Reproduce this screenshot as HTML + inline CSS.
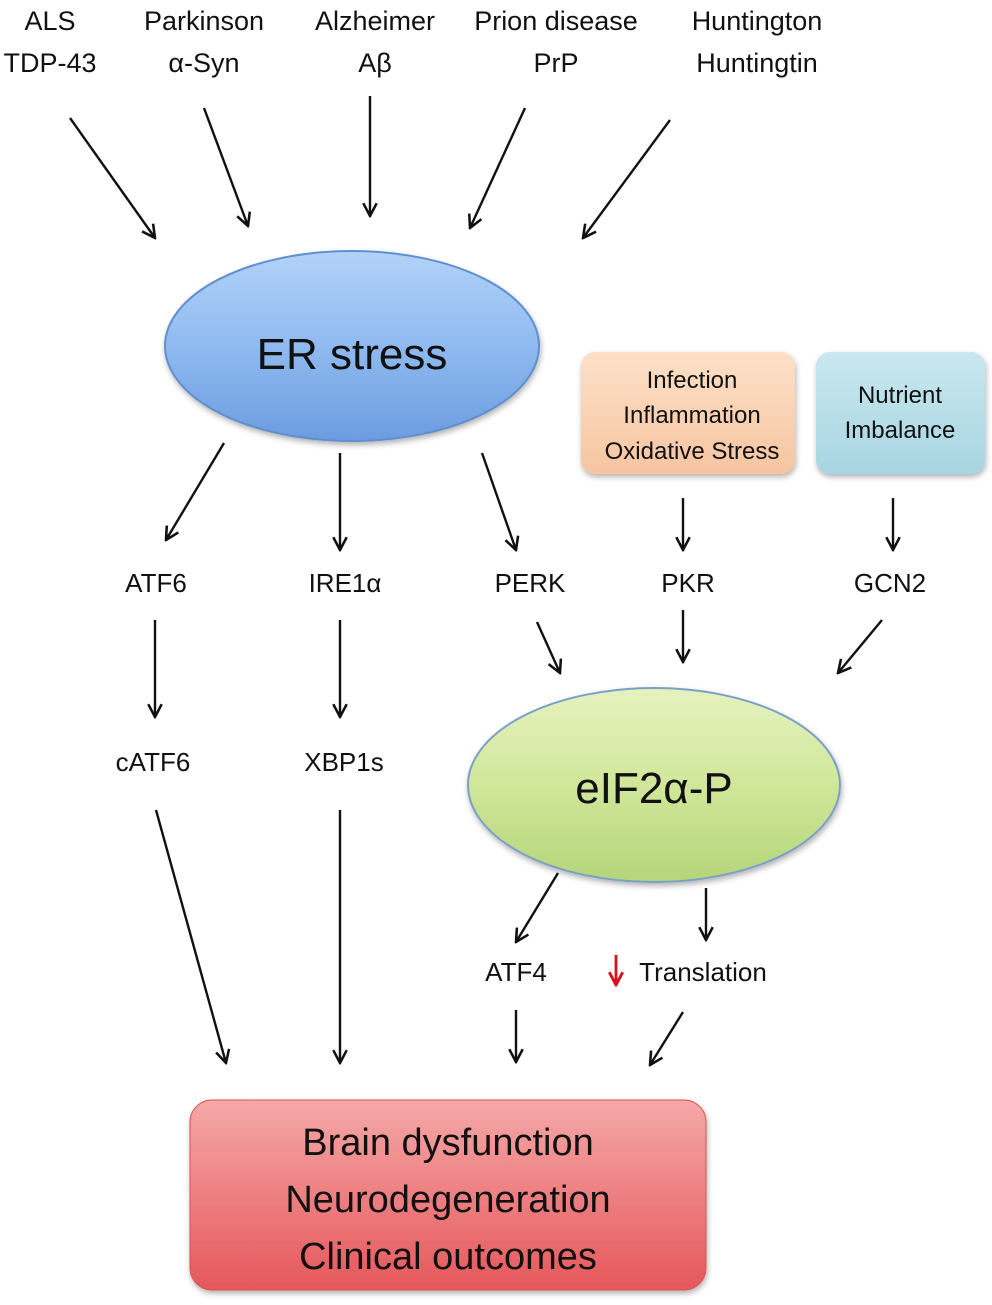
<!DOCTYPE html>
<html><head><style>
html,body{margin:0;padding:0;background:#fff;}
svg text{font-family:"Liberation Sans","DejaVu Sans",sans-serif;fill:#111;}
</style></head><body>
<svg width="992" height="1300" viewBox="0 0 992 1300" xmlns="http://www.w3.org/2000/svg">
<defs>
<marker id="ah" markerWidth="16" markerHeight="16" refX="9" refY="5" orient="auto" markerUnits="userSpaceOnUse" viewBox="0 0 10 10">
<path d="M1,0.8 L9,5 L1,9.2" fill="none" stroke="#111" stroke-width="1.6"/></marker>
<marker id="ahr" markerWidth="16" markerHeight="16" refX="9" refY="5" orient="auto" markerUnits="userSpaceOnUse" viewBox="0 0 10 10">
<path d="M1,0.8 L9,5 L1,9.2" fill="none" stroke="#d8121b" stroke-width="1.8"/></marker>
<linearGradient id="gb" x1="0" y1="0" x2="0" y2="1"><stop offset="0" stop-color="#b2d2f8"/><stop offset="0.5" stop-color="#8fbaf0"/><stop offset="1" stop-color="#6c9ce0"/></linearGradient>
<linearGradient id="gg" x1="0" y1="0" x2="0" y2="1"><stop offset="0" stop-color="#e6f2bf"/><stop offset="0.5" stop-color="#d0e79a"/><stop offset="1" stop-color="#b5d57a"/></linearGradient>
<linearGradient id="go" x1="0" y1="0" x2="0" y2="1"><stop offset="0" stop-color="#fde0c8"/><stop offset="1" stop-color="#f6c5a0"/></linearGradient>
<linearGradient id="gc" x1="0" y1="0" x2="0" y2="1"><stop offset="0" stop-color="#c9e8ef"/><stop offset="1" stop-color="#a7d5e2"/></linearGradient>
<linearGradient id="gr" x1="0" y1="0" x2="0" y2="1"><stop offset="0" stop-color="#f5a8a8"/><stop offset="1" stop-color="#e5575b"/></linearGradient>
<filter id="sh" x="-10%" y="-10%" width="120%" height="130%"><feDropShadow dx="1" dy="3" stdDeviation="3" flood-opacity="0.3"/></filter>
</defs>

<g font-size="27" text-anchor="middle">
<text x="50" y="30">ALS</text><text x="50" y="72">TDP-43</text>
<text x="204" y="30">Parkinson</text><text x="204" y="72">α-Syn</text>
<text x="375" y="30">Alzheimer</text><text x="375" y="72">Aβ</text>
<text x="556" y="30">Prion disease</text><text x="556" y="72">PrP</text>
<text x="757" y="30">Huntington</text><text x="757" y="72">Huntingtin</text>
</g>

<g stroke="#111" stroke-width="2.4" fill="none" marker-end="url(#ah)">
<line x1="70" y1="118" x2="155" y2="238"/>
<line x1="204" y1="108" x2="248" y2="226"/>
<line x1="370" y1="96" x2="370" y2="216"/>
<line x1="525" y1="108" x2="470" y2="228"/>
<line x1="670" y1="120" x2="583" y2="238"/>
<line x1="224" y1="443" x2="166" y2="540"/>
<line x1="340" y1="453" x2="340" y2="550"/>
<line x1="482" y1="453" x2="516" y2="550"/>
<line x1="683" y1="498" x2="683" y2="550"/>
<line x1="893" y1="498" x2="893" y2="550"/>
<line x1="155" y1="620" x2="155" y2="717"/>
<line x1="340" y1="620" x2="340" y2="717"/>
<line x1="537" y1="622" x2="560" y2="673"/>
<line x1="683" y1="610" x2="683" y2="662"/>
<line x1="882" y1="620" x2="838" y2="673"/>
<line x1="156" y1="810" x2="226" y2="1063"/>
<line x1="340" y1="810" x2="340" y2="1063"/>
<line x1="558" y1="873" x2="516" y2="942"/>
<line x1="706" y1="888" x2="706" y2="940"/>
<line x1="516" y1="1010" x2="516" y2="1062"/>
<line x1="683" y1="1012" x2="650" y2="1065"/>
</g>
<line x1="616" y1="955" x2="616" y2="985" stroke="#d8121b" stroke-width="2.8" marker-end="url(#ahr)"/>

<ellipse cx="352" cy="346" rx="187" ry="95" fill="url(#gb)" stroke="#5f8fd0" stroke-width="2" filter="url(#sh)"/>
<text x="352" y="369" font-size="44" text-anchor="middle">ER stress</text>

<rect x="581" y="352" width="214" height="122" rx="14" fill="url(#go)" filter="url(#sh)"/>
<g font-size="24" text-anchor="middle">
<text x="692" y="388">Infection</text><text x="692" y="423">Inflammation</text><text x="692" y="459">Oxidative Stress</text>
</g>
<rect x="816" y="352" width="169" height="122" rx="14" fill="url(#gc)" filter="url(#sh)"/>
<g font-size="24" text-anchor="middle">
<text x="900" y="403">Nutrient</text><text x="900" y="438">Imbalance</text>
</g>

<g font-size="26" text-anchor="middle">
<text x="156" y="592">ATF6</text>
<text x="345" y="592">IRE1α</text>
<text x="530" y="592">PERK</text>
<text x="688" y="592">PKR</text>
<text x="890" y="592">GCN2</text>
<text x="153" y="771">cATF6</text>
<text x="344" y="771">XBP1s</text>
<text x="516" y="981">ATF4</text>
<text x="703" y="981">Translation</text>
</g>

<ellipse cx="654" cy="785" rx="186" ry="97" fill="url(#gg)" stroke="#7aa0c8" stroke-width="2" filter="url(#sh)"/>
<text x="654" y="803" font-size="44" text-anchor="middle">eIF2α-P</text>

<rect x="190" y="1100" width="516" height="190" rx="22" fill="url(#gr)" stroke="#d55" stroke-width="1" filter="url(#sh)"/>
<g font-size="38" text-anchor="middle">
<text x="448" y="1155">Brain dysfunction</text>
<text x="448" y="1212">Neurodegeneration</text>
<text x="448" y="1269">Clinical outcomes</text>
</g>
</svg>
</body></html>
